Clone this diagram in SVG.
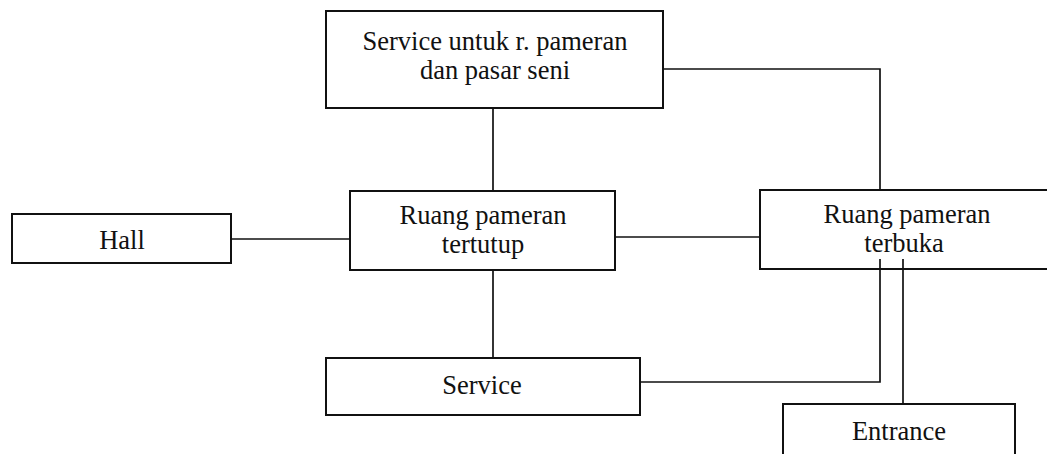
<svg xmlns="http://www.w3.org/2000/svg" width="1047" height="454" viewBox="0 0 1047 454">
  <style>
    .box { fill: none; stroke: #111111; stroke-width: 2; }
    .lbl { font-family: "Liberation Serif", "Times New Roman", serif; font-size: 26.5px; fill: #111111; text-anchor: middle; }
    .conn { fill: none; stroke: #111111; stroke-width: 1.7; }
  </style>
  <rect width="1047" height="454" fill="#ffffff"/>
  <g id="node-service-pameran">
    <rect class="box" x="326" y="11" width="337" height="97"/>
    <text class="lbl" x="495" y="50">Service untuk r. pameran</text>
    <text class="lbl" x="495" y="79">dan pasar seni</text>
  </g>
  <g id="node-hall">
    <rect class="box" x="12" y="214" width="219" height="49"/>
    <text class="lbl" x="122" y="249">Hall</text>
  </g>
  <g id="node-ruang-tertutup">
    <rect class="box" x="350" y="191" width="265" height="79"/>
    <text class="lbl" x="483" y="224">Ruang pameran</text>
    <text class="lbl" x="483" y="253">tertutup</text>
  </g>
  <g id="node-ruang-terbuka">
    <rect class="box" x="760" y="190" width="300" height="79"/>
    <text class="lbl" x="907" y="223">Ruang pameran</text>
    <text class="lbl" x="904" y="252">terbuka</text>
  </g>
  <g id="node-service">
    <rect class="box" x="326" y="358" width="314" height="57"/>
    <text class="lbl" x="482" y="394">Service</text>
  </g>
  <g id="node-entrance">
    <rect class="box" x="783" y="404" width="232" height="60"/>
    <text class="lbl" x="899" y="440">Entrance</text>
  </g>
  <g id="connectors">
    <polyline class="conn" points="663,69 880,69 880,190"/>
    <line class="conn" x1="493" y1="108" x2="493" y2="191"/>
    <line class="conn" x1="231" y1="239" x2="350" y2="239"/>
    <line class="conn" x1="615" y1="237" x2="760" y2="237"/>
    <line class="conn" x1="493" y1="270" x2="493" y2="358"/>
    <polyline class="conn" points="640,382 880,382 880,259"/>
    <line class="conn" x1="903" y1="259" x2="903" y2="404"/>
  </g>
</svg>
